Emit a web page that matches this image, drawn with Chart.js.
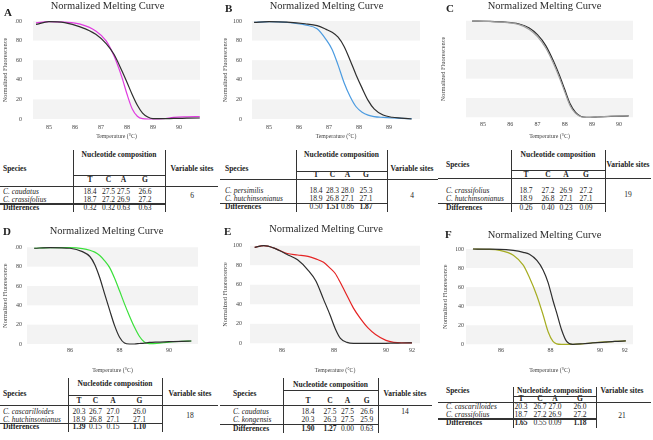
<!DOCTYPE html>
<html>
<head>
<meta charset="utf-8">
<script src="https://cdn.jsdelivr.net/npm/chart.js@4"></script>
<style>
  body { margin: 0; width: 653px; height: 440px; background: #fff; position: relative; overflow: hidden;
         font-family: "Liberation Serif", "Times New Roman", serif; color: #222; }
  canvas { position: absolute; }
  .tx { position: absolute; white-space: nowrap; font-size: 7.5px; line-height: 10px; height: 10px; }
  .ln { position: absolute; background: #333; }
  .letter { position: absolute; font-weight: bold; font-size: 11px; line-height: 12px; }
</style>
</head>
<body>
<script>
const FONT = "'Liberation Serif', 'Times New Roman', serif";

// melting curves: temperature (°C) and normalized fluorescence
const aTemps = [84.5, 85.0, 85.6, 86.2, 86.8, 87.2, 87.5, 87.8, 88.0, 88.2, 88.4, 88.6, 88.8, 89.0, 89.4, 89.8, 90.3, 90.8];
const aBlack = [96.5, 99.3, 98.3, 94, 86.5, 77, 66, 49.5, 37.5, 25, 14, 6, 2, 0.3, 0.3, 0.6, 0.8, 1];
const aPink = [98, 99.3, 98.8, 96.8, 89.8, 79.8, 64.5, 43, 25.5, 10.5, 2.8, 0.3, 0, 0, 0.3, 1.7, 2.2, 2.4];

const bTemps = [84.5, 85.0, 85.6, 86.2, 86.6, 86.9, 87.1, 87.3, 87.5, 87.7, 87.9, 88.1, 88.3, 88.5, 88.8, 89.1, 89.4, 89.75];
const bBlack = [98.6, 99.3, 98.8, 97.2, 95.3, 91.5, 88.5, 83.5, 74, 60, 45, 31.5, 19, 10.3, 4, 1.8, 0.9, 0];
const bBlue = [98.6, 99.3, 98.5, 96, 92, 81, 71, 55, 37, 23, 12.5, 7, 4, 2.5, 1.6, 1, 0.7, 0.3];

const cTemps = [84.6, 85.2, 85.8, 86.3, 86.7, 87.0, 87.3, 87.6, 87.8, 88.0, 88.2, 88.4, 88.6, 88.8, 89.2, 89.7, 90.35];
const cBlack = [99.6, 99.3, 98.5, 96.8, 92.5, 85.5, 74.5, 57.5, 44, 29, 14, 5, 0.8, 0, 0.3, 0.9, 1.4];
const cGrey = [99.6, 99.2, 98.3, 96.2, 91, 83.5, 72, 55, 41.5, 26.5, 12, 4, 0.6, 0, 0.4, 1.1, 1.6];

const dTemps = [84.55, 85.2, 86.0, 86.5, 86.8, 87.0, 87.2, 87.4, 87.6, 87.8, 88.0, 88.2, 88.4, 88.6, 88.8, 89.0, 89.2, 89.5, 90.0, 90.5, 90.9];
const dBlack = [99, 99.7, 99, 95.5, 90.5, 82, 68.5, 51.5, 35, 19, 7, 1, 0, 0, 0.5, 1, 1.6, 2, 2.4, 2.8, 3.1];
const dGreen = [99, 99.7, 99.6, 98.6, 97, 95, 91.5, 86, 79, 68, 55, 41.5, 29, 17.5, 8, 2, 0.3, 0.5, 2, 2.7, 3.1];

const eTemps = [84.95, 85.3, 85.7, 86.2, 86.6, 87.0, 87.3, 87.6, 87.85, 88.05, 88.25, 88.5, 88.75, 89.0, 89.3, 89.6, 90.0, 90.3, 90.6, 91.0];
const eBlack = [98.3, 100, 97.5, 91, 85.5, 75, 64, 45, 29, 15, 5, 1, 0, 0, 0, 0, 0, 0.2, 0.3, 0.5];
const eRed = [98.3, 100, 97.5, 92, 90.5, 89, 86.5, 83, 77, 71.5, 62, 49, 36, 26, 16, 9, 3, 1, 0.5, 0.5];

const fTemps = [84.87, 85.4, 85.95, 86.5, 86.9, 87.15, 87.45, 87.7, 87.9, 88.1, 88.25, 88.45, 88.65, 88.9, 89.3, 89.7, 90.2, 90.6, 91.04];
const fOlive = [100, 99.7, 98.6, 93.5, 83, 70, 51, 31, 13.5, 3, 0.5, 0, 0, 0, 0.5, 1.6, 2.5, 3, 3.5];
const fBlack = [100, 99.8, 99.7, 98.5, 96.5, 94.5, 88, 78, 65, 46, 33, 15, 3, 0, 0.6, 1.4, 2.3, 3, 3.5];

// x tick labels
const abcTicks = [85, 86, 87, 88, 89, 90];
const bTicks = [85, 86, 87, 88, 89];
const dTicks = [86, 88, 90];
const efTicks = [86, 88, 90, 91];
const efTickLabels = ["86", "88", "90", "92"];
const yTicks = [0, 20, 40, 60, 80, 100];

// nucleotide composition tables (T, C, A, G)
const speciesPairs = [
  ["C. caudatus", "C. crassifolius"],
  ["C. persimilis", "C. hutchinsonianus"],
  ["C. crassifolius", "C. hutchinsonianus"],
  ["C. cascarilloides", "C. hutchinsonianus"],
  ["C. caudatus", "C. kongensis"],
  ["C. cascarilloides", "C. crassifolius"],
];
const compFirst = [
  [18.4, 27.5, 27.5, 26.6], [18.4, 28.3, 28.0, 25.3], [18.7, 27.2, 26.9, 27.2],
  [20.3, 26.7, 27.0, 26.0], [18.4, 27.5, 27.5, 26.6], [20.3, 26.7, 27.0, 26.0],
];
const compSecond = [
  [18.7, 27.2, 26.9, 27.2], [18.9, 26.8, 27.1, 27.1], [18.9, 26.8, 27.1, 27.1],
  [18.9, 26.8, 27.1, 27.1], [20.3, 26.3, 27.5, 25.9], [18.7, 27.2, 26.9, 27.2],
];
const differences = [
  [0.32, 0.32, 0.63, 0.63], [0.50, 1.51, 0.86, 1.87], [0.26, 0.40, 0.23, 0.09],
  [1.39, 0.15, 0.15, 1.10], [1.90, 1.27, 0.00, 0.63], [1.65, 0.55, 0.09, 1.18],
];
const variableSites = [6, 4, 19, 18, 14, 21];
const bases = ["T", "C", "A", "G"];
const panelLetters = ["A", "B", "C", "D", "E", "F"];

Chart.defaults.font.family = FONT;
Chart.defaults.color = "#444";

// light grey bands behind every other 20% step
const bandsPlugin = {
  id: "bands",
  beforeDatasetsDraw(chart) {
    const { ctx, chartArea, scales: { y } } = chart;
    ctx.save();
    ctx.fillStyle = "#f3f3f3";
    for (let v = 0; v < 100; v += 40) {
      const top = y.getPixelForValue(v + 20);
      const bottom = y.getPixelForValue(v);
      ctx.fillRect(chartArea.left, top, chartArea.right - chartArea.left, bottom - top);
    }
    ctx.restore();
  },
};

// layout of each chart panel
const panels = [
  { box: [0, 0, 205, 140], padL: 15, yW: 18, xH: 21, titlePad: [0.4, 8], yTickPad: 11, yTitleOff: -10, xTickPad: 4.9, xTitlePad: 0.4,
    min: 84.385, max: 90.81, temps: aTemps, series: [aBlack, aPink], colors: ["#2e2e2e", "#e03ce0"], ticks: abcTicks, tickLabels: null },
  { box: [220, 0, 205, 140], padL: 13, yW: 19, xH: 21, titlePad: [0.4, 8], yTickPad: 10, yTitleOff: -8, xTickPad: 4.9, xTitlePad: 0.4,
    min: 84.43, max: 90.03, temps: bTemps, series: [bBlack, bBlue], colors: ["#2e2e2e", "#4b9be0"], ticks: bTicks, tickLabels: null },
  { box: [438, 0, 200, 140], padL: 18, yW: 10, xH: 22.7, titlePad: [0, 8.1], yTickPad: 11, yTitleOff: -13, xTickPad: 4, xTitlePad: 0.4,
    min: 84.375, max: 90.51, temps: cTemps, series: [cGrey, cBlack], colors: ["#a0a0a0", "#2e2e2e"], ticks: abcTicks, tickLabels: null },
  { box: [0, 215, 203, 160], padL: 15, yW: 12, xH: 31, titlePad: [10.4, 9.3], yTickPad: 5, yTitleOff: -10, xTickPad: 2.9, xTitlePad: 1.4,
    min: 84.26, max: 91.17, temps: dTemps, series: [dBlack, dGreen], colors: ["#2e2e2e", "#3be03b"], ticks: dTicks, tickLabels: null },
  { box: [220, 215, 205, 160], padL: 12, yW: 18, xH: 31.7, titlePad: [7.7, 10.4], yTickPad: 8, yTitleOff: -7, xTickPad: 3.1, xTitlePad: 1.4,
    min: 84.77, max: 91.31, temps: eTemps, series: [eBlack, eRed], colors: ["#2e2e2e", "#e52424"], ticks: efTicks, tickLabels: efTickLabels },
  { box: [438, 215, 200, 160], padL: 18, yW: 10, xH: 30.7, titlePad: [13.7, 7.7], yTickPad: 2, yTitleOff: -11, xTickPad: 2.8, xTitlePad: 1.4,
    min: 84.59, max: 91.33, temps: fTemps, series: [fBlack, fOlive], colors: ["#2e2e2e", "#a6ad22"], ticks: efTicks, tickLabels: efTickLabels },
];

const letterPos = [[4, 5.5], [225, 2], [446, 1.5], [3, 225], [224, 224.5], [445, 227.5]];

function drawMeltChart(p) {
  const canvas = document.createElement("canvas");
  canvas.width = p.box[2];
  canvas.height = p.box[3];
  canvas.style.left = p.box[0] + "px";
  canvas.style.top = p.box[1] + "px";
  document.body.appendChild(canvas);

  const datasets = p.series.map((values, i) => ({
    data: p.temps.map((t, j) => ({ x: t, y: values[j] })),
    borderColor: p.colors[i],
    borderWidth: 1.2,
    pointRadius: 0,
    cubicInterpolationMode: "monotone",
    clip: 4,
  }));

  return new Chart(canvas.getContext("2d"), {
    type: "line",
    data: { datasets: datasets },
    options: {
      responsive: false,
      animation: false,
      layout: { padding: { left: p.padL, right: 5, top: 0, bottom: 0 } },
      plugins: {
        legend: { display: false },
        tooltip: { enabled: false },
        title: {
          display: true,
          text: "Normalized Melting Curve",
          color: "#2a2a2a",
          font: { family: FONT, size: 10.5, weight: "normal" },
          padding: { top: p.titlePad[0], bottom: p.titlePad[1] },
        },
      },
      scales: {
        x: {
          type: "linear",
          min: p.min,
          max: p.max,
          afterFit: (scale) => { scale.height = p.xH; },
          afterBuildTicks: (axis) => { axis.ticks = p.ticks.map((v) => ({ value: v })); },
          ticks: {
            autoSkip: false,
            padding: p.xTickPad,
            font: { size: 6 },
            callback: (value, index) => (p.tickLabels ? p.tickLabels[index] : value),
          },
          grid: { display: false, drawTicks: false },
          border: { display: false },
          title: { display: true, text: "Temperature (°C)", font: { size: 5.8 }, color: "#444", padding: { top: 0, bottom: p.xTitlePad } },
        },
        y: {
          min: 0,
          max: 100,
          afterFit: (scale) => { scale.width = p.yW; },
          afterBuildTicks: (axis) => { axis.ticks = yTicks.map((v) => ({ value: v })); },
          ticks: { autoSkip: false, padding: p.yTickPad, font: { size: 6 } },
          grid: { display: false, drawTicks: false },
          border: { display: false },
          title: { display: true, text: "Normalized Fluorescence", font: { size: 6.3 }, color: "#444",
                   padding: { top: p.yTitleOff - 3.78, bottom: 0 } },
        },
      },
    },
    plugins: [bandsPlugin],
  });
}

// table layouts: x and y positions of text and rules
const tableLayouts = [
  { left: 0, speciesX: 3, right: 218, v1: 73, v2: 165, cols: [90, 108.5, 123.5, 145], varX: 192, top: 150, bottom: 212,
    nucY: 155, nucLine: 175, hdrY: 169, tcagY: 180.5, tcagLine: 186, row1: 192.5, row2: 200.5, thick: 204, diffY: 208.5, varValY: 196 },
  { left: 220, speciesX: 225, right: 438, v1: 296, v2: 387, cols: [316, 332.5, 347.5, 366], varX: 412, top: 150, bottom: 212,
    nucY: 155, nucLine: 171, hdrY: 169, tcagY: 175.7, tcagLine: 179.3, row1: 191.7, row2: 199.3, thick: 203.3, diffY: 207.7, varValY: 196 },
  { left: 438, speciesX: 446, right: 651, v1: 511, v2: 605, cols: [526, 548, 566, 586], varX: 628, top: 150, bottom: 212,
    nucY: 155, nucLine: 170, hdrY: 165, tcagY: 175, tcagLine: 178.3, row1: 191.7, row2: 199.3, thick: 203.3, diffY: 208.3, varValY: 195 },
  { left: 0, speciesX: 3, right: 218, v1: 68, v2: 162, cols: [79, 95.5, 113, 139.5], varX: 190, top: 378, bottom: 432,
    nucY: 384.3, nucLine: 395, hdrY: 394.3, tcagY: 401, tcagLine: 405, row1: 412.3, row2: 420, thick: 423.3, diffY: 427.7, varValY: 416.7 },
  { left: 220, speciesX: 233, right: 432, v1: 283, v2: 378, cols: [308, 330, 347.5, 366.7], varX: 405, top: 378, bottom: 433,
    nucY: 385, nucLine: 390, hdrY: 394, tcagY: 401.7, tcagLine: 405, row1: 412.3, row2: 420, thick: 424.3, diffY: 429, varValY: 412.3 },
  { left: 438, speciesX: 446, right: 651, v1: 513, v2: 596, cols: [521, 540, 555, 580], varX: 622, top: 386.7, bottom: 428,
    nucY: 391.7, nucLine: 396.7, hdrY: 391.7, tcagY: 399.3, tcagLine: 402.3, row1: 407.7, row2: 415, thick: 419, diffY: 423.3, varValY: 416.7 },
];

function addText(str, x, y, style, leftAlign) {
  const d = document.createElement("div");
  d.className = "tx";
  d.textContent = str;
  if (leftAlign) {
    d.style.left = x + "px";
  } else {
    d.style.left = (x - 40) + "px";
    d.style.width = "80px";
    d.style.textAlign = "center";
  }
  d.style.top = (y - 5.5) + "px";
  if (style) d.style.cssText += style;
  document.body.appendChild(d);
}

function addLine(x1, y1, x2, y2, w) {
  const d = document.createElement("div");
  d.className = "ln";
  if (y1 === y2) {
    d.style.left = x1 + "px"; d.style.width = (x2 - x1) + "px";
    d.style.top = (y1 - w / 2) + "px"; d.style.height = w + "px";
  } else {
    d.style.left = (x1 - w / 2) + "px"; d.style.width = w + "px";
    d.style.top = y1 + "px"; d.style.height = (y2 - y1) + "px";
  }
  document.body.appendChild(d);
}

function drawTable(k) {
  const t = tableLayouts[k];
  const bold = "font-weight:bold;";
  addText("Species", t.speciesX, t.hdrY, bold, true);
  addText("Nucleotide composition", (t.v1 + t.v2) / 2, t.nucY, bold);
  addText("Variable sites", t.varX, t.hdrY, bold);
  bases.forEach((b, i) => addText(b, t.cols[i], t.tcagY, bold));
  addText(speciesPairs[k][0], t.speciesX, t.row1, "font-style:italic;", true);
  addText(speciesPairs[k][1], t.speciesX, t.row2, "font-style:italic;", true);
  compFirst[k].forEach((v, i) => addText(v.toFixed(1), t.cols[i], t.row1));
  compSecond[k].forEach((v, i) => addText(v.toFixed(1), t.cols[i], t.row2));
  addText("Differences", t.speciesX, t.diffY, bold, true);
  differences[k].forEach((v, i) => addText(v.toFixed(2), t.cols[i], t.diffY, v > 1 ? bold : ""));
  addText(String(variableSites[k]), t.varX, t.varValY);

  addLine(t.v1, t.nucLine, t.v2, t.nucLine, 0.8);
  addLine(t.left, t.tcagLine, t.right, t.tcagLine, 0.8);
  addLine(t.left, t.thick, t.v2, t.thick, 1.4);
  addLine(t.v1, t.top, t.v1, t.bottom, 0.8);
  addLine(t.v2, t.top, t.v2, t.bottom, 0.8);
}

panels.forEach((p, k) => {
  drawMeltChart(p);
  const l = document.createElement("div");
  l.className = "letter";
  l.textContent = panelLetters[k];
  l.style.left = letterPos[k][0] + "px";
  l.style.top = letterPos[k][1] + "px";
  document.body.appendChild(l);
  drawTable(k);
});
</script>
</body>
</html>
